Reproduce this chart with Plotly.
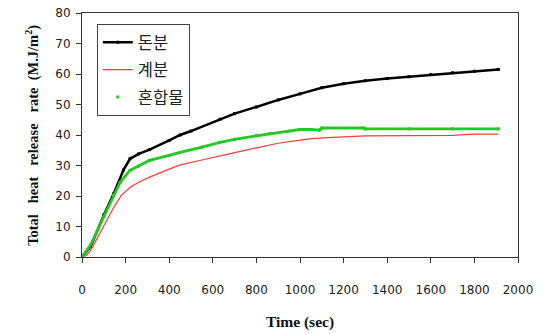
import plotly.graph_objects as go

# Data
time_black = [0, 40, 100, 145, 190, 220, 260, 310, 400, 450, 500, 633, 700, 800, 900, 1000, 1100, 1200, 1300, 1400, 1500, 1600, 1700, 1800, 1910]
black_vals = [0, 3.5, 13.7, 20.7, 28.5, 32.2, 33.8, 35.2, 38.2, 40.0, 41.3, 45.2, 47.0, 49.2, 51.5, 53.5, 55.5, 56.8, 57.8, 58.5, 59.1, 59.8, 60.4, 60.9, 61.5]

time_red = [0, 20, 40, 100, 145, 180, 220, 260, 310, 400, 450, 550, 633, 700, 800, 900, 1000, 1050, 1150, 1300, 1500, 1700, 1790, 1910]
red_vals = [0, 0.5, 2.2, 10.0, 16.2, 20.2, 22.8, 24.5, 26.2, 28.8, 30.2, 31.8, 33.0, 34.2, 35.8, 37.3, 38.3, 38.8, 39.2, 39.7, 39.8, 39.9, 40.3, 40.3]

time_green = [0, 40, 100, 145, 175, 220, 260, 310, 400, 450, 550, 633, 700, 800, 860, 950, 1000, 1050, 1090, 1100, 1290, 1300, 1500, 1700, 1910]
green_vals = [0, 4.0, 13.2, 20.3, 24.5, 28.4, 29.8, 31.7, 33.3, 34.3, 36.0, 37.6, 38.6, 39.8, 40.4, 41.3, 41.8, 41.8, 41.6, 42.3, 42.3, 42.0, 42.0, 42.0, 42.0]

x_ticks = [0, 200, 400, 600, 800, 1000, 1200, 1400, 1600, 1800, 2000]
y_ticks = [0, 10, 20, 30, 40, 50, 60, 70, 80]

names = ["돈분", "계분", "혼합물"]
y_title = "<b>Total   heat   release   rate  (M.J/m<sup>2</sup>)</b>"
x_title = "<b>Time (sec)</b>"

fig = go.Figure()
fig.add_trace(go.Scatter(
    x=time_black, y=black_vals, name=names[0], mode="lines+markers",
    line=dict(color="black", width=2.5), marker=dict(color="black", size=3, symbol="square"),
    legendgroup="a"))
fig.add_trace(go.Scatter(
    x=time_red, y=red_vals, name=names[1], mode="lines",
    line=dict(color="#ff3b3b", width=1.2), legendgroup="b"))
fig.add_trace(go.Scatter(
    x=time_green, y=green_vals, mode="lines", showlegend=False,
    line=dict(color="#22c922", width=2.8), legendgroup="c"))
fig.add_trace(go.Scatter(
    x=time_green, y=green_vals, name=names[2], mode="markers",
    marker=dict(color="#22c922", size=3, symbol="square"), legendgroup="c"))

tickfont = dict(family="DejaVu Sans", size=12, color="#222")
fig.update_layout(
    width=545, height=334,
    margin=dict(l=82, r=27, t=13, b=77),
    plot_bgcolor="white", paper_bgcolor="white",
    showlegend=True,
    legend=dict(
        x=0.034, y=0.955, xanchor="left", yanchor="top",
        bordercolor="#444", borderwidth=1, bgcolor="white",
        font=dict(family="Noto Sans CJK KR", size=16.5, color="#222"),
        tracegroupgap=3, traceorder="grouped",
        itemwidth=30,
    ),
    xaxis=dict(
        range=[0, 2000], tickvals=x_ticks, ticks="outside", ticklen=5,
        tickcolor="#333", showline=True, linecolor="#333", linewidth=1, mirror=True,
        showgrid=False, zeroline=False, tickfont=tickfont, ticklabelstandoff=17,
        automargin=False, ticklabeloverflow="allow",
        title=dict(text=x_title, font=dict(family="Liberation Serif", size=15.5, color="#111"), standoff=19),
    ),
    yaxis=dict(
        range=[0, 80], tickvals=y_ticks, ticks="outside", ticklen=5,
        tickcolor="#333", showline=True, linecolor="#333", linewidth=1, mirror=True,
        showgrid=False, zeroline=False, tickfont=tickfont, ticklabelstandoff=3,
        automargin=False, ticklabeloverflow="allow",
    ),
)
fig.add_annotation(
    text=y_title, textangle=-90, xref="paper", yref="paper",
    x=-0.115, y=0.5, xanchor="center", yanchor="middle", showarrow=False,
    font=dict(family="Liberation Serif", size=14.5, color="#111"),
)

fig.write_html("out.html", config={"displayModeBar": False},
               post_script="document.body.style.margin='0';")
